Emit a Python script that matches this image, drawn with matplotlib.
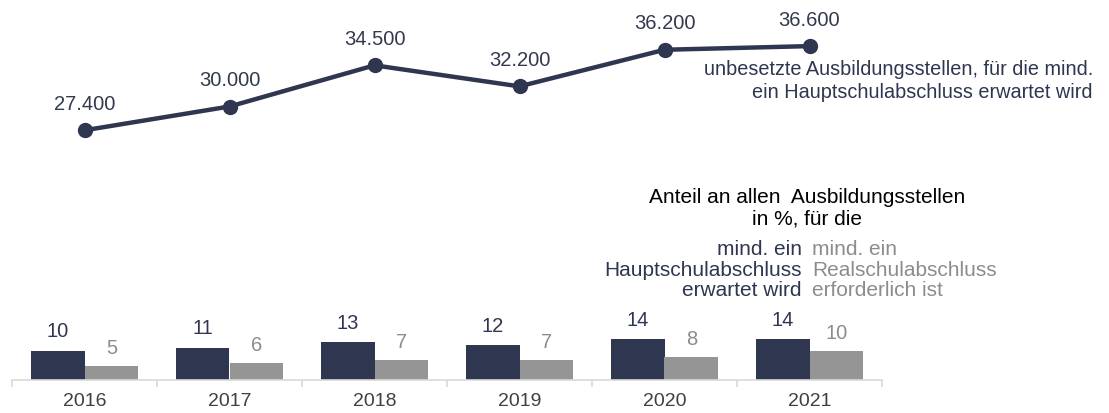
import numpy as np
import matplotlib
matplotlib.use("Agg")
import matplotlib.pyplot as plt

plt.rcParams['font.family'] = ['Liberation Sans', 'DejaVu Sans']

# data
years = ["2016", "2017", "2018", "2019", "2020", "2021"]
vacant = [27.4, 30.0, 34.5, 32.2, 36.2, 36.6]
vacant_labels = ["27.400", "30.000", "34.500", "32.200", "36.200", "36.600"]
share_haupt = [10, 11, 13, 12, 14, 14]
share_real = [5, 6, 7, 7, 8, 10]

navy = "#2e3650"
gray = "#959595"
gray_txt = "#8c8c8c"
axis_col = "#d9d9d9"

W, H = 1109, 414
fig = plt.figure(figsize=(W / 100, H / 100), dpi=100)


def px_box(left, bottom, width, height):
    return [left / W, bottom / H, width / W, height / H]


x = np.arange(len(years))

# upper panel: line
ax_l = fig.add_axes(px_box(12, 215, 870, 183))
ax_l.plot(x, vacant, color=navy, lw=3.2, marker="o", markersize=10,
          clip_on=False, solid_capstyle="round")
for xi, v, lab in zip(x, vacant, vacant_labels):
    ax_l.annotate(lab, (xi, v), xytext=(0, 19.5), textcoords="offset points",
                  ha="center", va="center", fontsize=14.5, color="#333a4d")
ax_l.set_xlim(-0.5, 5.5)
ax_l.set_ylim(20, 40)
ax_l.axis("off")

# lower panel: bars
ax_b = fig.add_axes(px_box(12, 33, 870, 145))
bw = 0.37
ax_b.bar(x - 0.185, share_haupt, width=bw, color=navy)
ax_b.bar(x + 0.185, share_real, width=bw, color=gray)
for xi, v in zip(x, share_haupt):
    ax_b.annotate(str(v), (xi - 0.185, v), xytext=(0, 14.5), textcoords="offset points",
                  ha="center", va="center", fontsize=14.5, color=navy)
for xi, v in zip(x, share_real):
    ax_b.annotate(str(v), (xi + 0.185, v), xytext=(0, 13), textcoords="offset points",
                  ha="center", va="center", fontsize=14.5, color=gray_txt)
ax_b.set_xlim(-0.5, 5.5)
ax_b.set_ylim(0, 50)
for s in ["top", "right", "left"]:
    ax_b.spines[s].set_visible(False)
ax_b.spines["bottom"].set_color(axis_col)
ax_b.spines["bottom"].set_linewidth(1.2)
ax_b.set_yticks([])
ax_b.set_xticks(x)
ax_b.set_xticklabels(years, fontsize=14, color="#404040")
ax_b.set_xticks(np.arange(-0.5, 6, 1), minor=True)
ax_b.tick_params(axis="x", which="major", length=0, pad=9)
ax_b.tick_params(axis="x", which="minor", length=5, color=axis_col, width=1.2)

# annotations
fig.text(1093 / W, 1 - 81 / H,
         "unbesetzte Ausbildungsstellen, für die mind.\nein Hauptschulabschluss erwartet wird",
         ha="right", va="center", fontsize=14.3, color=navy, linespacing=1.25)
fig.text(807 / W, 1 - 208 / H, "Anteil an allen  Ausbildungsstellen\nin %, für die",
         ha="center", va="center", fontsize=15, color="black", linespacing=1.15)
fig.text(802 / W, 1 - 270 / H, "mind. ein\nHauptschulabschluss\nerwartet wird",
         ha="right", va="center", fontsize=15, color=navy, linespacing=1.1)
fig.text(812 / W, 1 - 270 / H, "mind. ein\nRealschulabschluss\nerforderlich ist",
         ha="left", va="center", fontsize=15, color=gray_txt, linespacing=1.1)

fig.savefig("out.png", dpi=100)
